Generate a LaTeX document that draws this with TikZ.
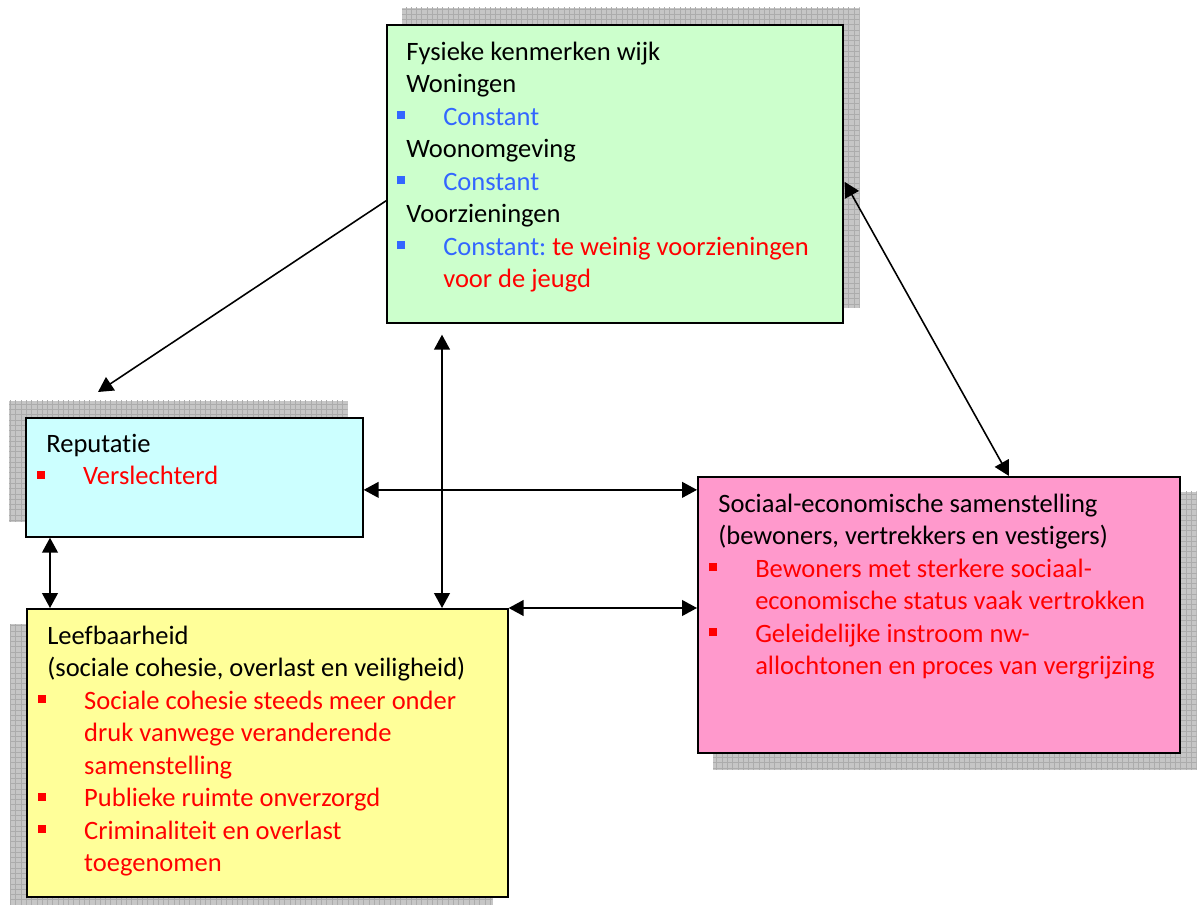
\documentclass[tikz,border=0pt]{standalone}
\usepackage{fontspec}
\setmainfont{Carlito}[Ligatures=NoCommon]
\usepackage{xcolor}
\usepackage{tikz}
\usetikzlibrary{arrows.meta, positioning, backgrounds, calc, patterns}
\definecolor{fysgreen}{RGB}{204, 255, 204}
\definecolor{repcyan}{RGB}{204, 255, 255}
\definecolor{socpink}{RGB}{255, 153, 204}
\definecolor{leefyellow}{RGB}{255, 255, 153}
\definecolor{itemblue}{RGB}{51, 102, 255}
\definecolor{itemred}{RGB}{255, 0, 0}

\newcommand{\sq}[1]{\llap{\textcolor{#1}{\rule[3.4pt]{4.6pt}{4.6pt}}\hspace{0.6pt}}\hspace*{21pt}}
\newcommand{\ind}{\hspace*{21pt}}
\frenchspacing

\begin{document}
\begin{tikzpicture}[
  x=0.02cm, y=-0.02cm,
  box/.style={rectangle, draw=black, line width=1pt, inner sep=0pt, anchor=north west},
  txt/.style={anchor=north west, inner sep=0pt, align=left, font=\fontsize{15.1}{18.5}\selectfont},
  shadowbox/.style={fill=gray!45, postaction={pattern=grid, pattern color=gray!65}},
  arrow/.style={-{Triangle[length=8.5pt, width=9pt]}, line width=0.9pt},
  dblarrow/.style={{Triangle[length=8.5pt, width=9pt]}-{Triangle[length=8.5pt, width=9pt]}, line width=0.9pt}
]
\useasboundingbox (0,0) rectangle (1201,905);

% boxes
\node[box, fill=fysgreen, minimum width=9.12cm, minimum height=5.96cm] (fys) at (386,24) {};
\node[box, fill=repcyan, minimum width=6.74cm, minimum height=2.38cm] (rep) at (25,417) {};
\node[box, fill=socpink, minimum width=9.64cm, minimum height=5.52cm] (soc) at (697,476) {};
\node[box, fill=leefyellow, minimum width=9.62cm, minimum height=5.76cm] (leef) at (26,608) {};

% texts
\node[txt] (fystxt) at ($(fys.north west)+(20,13)$) {\strut Fysieke kenmerken wijk\\
Woningen\\
\sq{itemblue}\textcolor{itemblue}{Constant}\\
Woonomgeving\\
\sq{itemblue}\textcolor{itemblue}{Constant}\\
Voorzieningen\\
\sq{itemblue}\textcolor{itemblue}{Constant:} \textcolor{itemred}{te weinig voorzieningen}\\
\ind\textcolor{itemred}{voor de jeugd}};

\node[txt] (reptxt) at ($(rep.north west)+(21,12)$) {\strut Reputatie\\
\sq{itemred}\textcolor{itemred}{Verslechterd}};

\node[txt] (soctxt) at ($(soc.north west)+(21,13)$) {\strut Sociaal-economische samenstelling\\
(bewoners, vertrekkers en vestigers)\\
\sq{itemred}\textcolor{itemred}{Bewoners met sterkere sociaal-}\\
\ind\textcolor{itemred}{economische status vaak vertrokken}\\
\sq{itemred}\textcolor{itemred}{Geleidelijke instroom nw-}\\
\ind\textcolor{itemred}{allochtonen en proces van vergrijzing}};

\node[txt] (leeftxt) at ($(leef.north west)+(21,13)$) {\strut Leefbaarheid\\
(sociale cohesie, overlast en veiligheid)\\
\sq{itemred}\textcolor{itemred}{Sociale cohesie steeds meer onder}\\
\ind\textcolor{itemred}{druk vanwege veranderende}\\
\ind\textcolor{itemred}{samenstelling}\\
\sq{itemred}\textcolor{itemred}{Publieke ruimte onverzorgd}\\
\sq{itemred}\textcolor{itemred}{Criminaliteit en overlast}\\
\ind\textcolor{itemred}{toegenomen}};

% shadows
\begin{scope}[on background layer]
  \path[shadowbox] ($(fys.south west)+(16,-16)$) rectangle ($(fys.north east)+(16,-16)$);
  \path[shadowbox] ($(rep.south west)+(-16,-16)$) rectangle ($(rep.north east)+(-16,-16)$);
  \path[shadowbox] ($(soc.south west)+(16,16)$) rectangle ($(soc.north east)+(16,16)$);
  \path[shadowbox] ($(leef.south west)+(-16,16)$) rectangle ($(leef.north east)+(-16,16)$);
\end{scope}

% connectors
\coordinate (repin) at ($(rep.north west)+(73,-25)$);
\coordinate (repsoc) at ($(rep.east)+(0,12.5)$);
\draw[arrow] ($(fys.west)+(0,27)$) -- (repin);
\draw[dblarrow] ($(fys.east)+(1,8)$) -- ($(soc.north west)+(312,0)$);
\draw[dblarrow] ($(fys.south west)+(56,11)$) -- ($(leef.north west)+(416,0)$);
\draw[dblarrow] (repsoc) -- (repsoc -| soc.west);
\draw[dblarrow] (leef.north east) -- (leef.north east -| soc.west);
\draw[dblarrow] ($(rep.south west)+(25,0)$) -- ($(leef.north west)+(24,0)$);

\end{tikzpicture}
\end{document}
